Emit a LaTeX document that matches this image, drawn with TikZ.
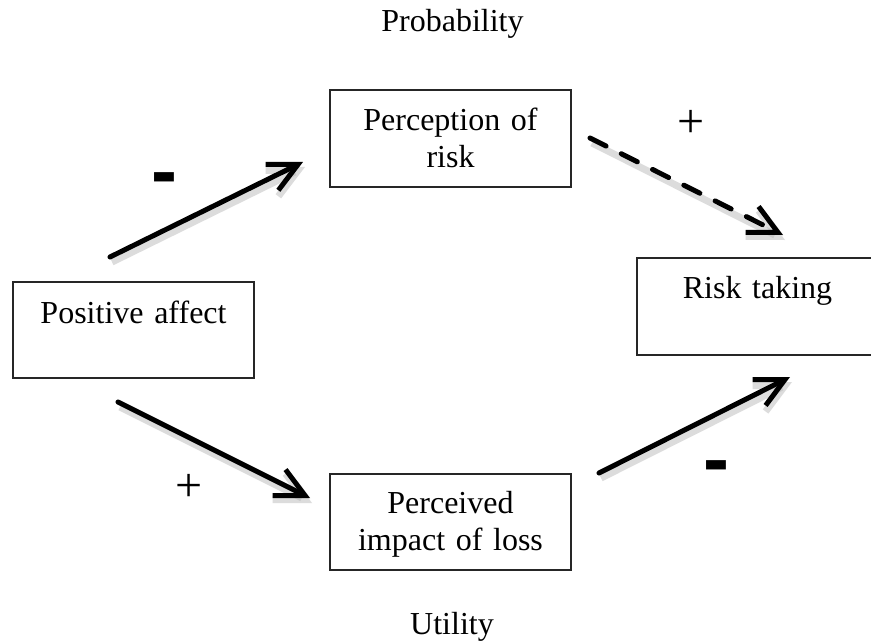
\documentclass[tikz,border=0pt]{standalone}
\usepackage{fontspec}
\setmainfont{Liberation Serif}
\newfontfamily\signfont{Liberation Sans}
\usetikzlibrary{arrows.meta}
\begin{document}
\begin{tikzpicture}[x=1pt,y=-1pt,
  box/.style={draw=black!85, line width=1.3pt, inner sep=0pt, outer sep=0pt, anchor=north west,
    text width=241pt, align=center, font=\fontsize{32}{37}\selectfont},
  conn/.style={line width=5pt, line cap=round, line join=round,
    -{Straight Barb[length=29pt,width=29pt]}},
  shade/.style={preaction={draw=black!30, opacity=0.45, line width=7pt,
    transform canvas={shift={(2,5)}}}},
  lbl/.style={inner sep=0pt, font=\fontsize{32}{37}\selectfont},
  plussign/.style={inner sep=0pt, font=\fontsize{48}{48}\selectfont},
  minussign/.style={inner sep=0pt, font=\signfont\bfseries\fontsize{78}{78}\selectfont}]
\fill[white] (0,0) rectangle (871,642);
\useasboundingbox (0,0) rectangle (871,642);
\node[box, text height=41pt, text depth=55pt] (pa) at (13,282) {Positive affect};
\node[box, text height=40pt, text depth=57pt] (pr) at (330,90) {Perception of\\risk};
\node[box, text height=40pt, text depth=57pt] (rt) at (637,258) {Risk taking};
\node[box, text height=39pt, text depth=57pt] (pl) at (330,474) {Perceived\\impact of loss};
\draw[conn, shade] ([shift={(97,-25)}]pa.north west) -- ([shift={(-27,72)}]pr.north west);
\draw[conn, shade, dash pattern=on 18pt off 17pt] ([shift={(19,48)}]pr.north east) -- ([shift={(146,-23)}]rt.north west);
\draw[conn, shade] ([shift={(105,24)}]pa.south west) -- ([shift={(-20,24)}]pl.north west);
\draw[conn, shade] ([shift={(28,-1)}]pl.north east) -- ([shift={(153,22)}]rt.south west);
\node[lbl, anchor=base] (prob) at (452.5,32) {Probability};
\node[lbl, anchor=base] (util) at (452,634) {Utility};
\node[plussign] (p1) at (691,124) {+};
\node[plussign] (p2) at (189,488) {+};
\node[minussign, anchor=base] (m1) at (164.5,197) {-};
\node[minussign, anchor=base] (m2) at (716.5,485) {-};
\end{tikzpicture}
\end{document}
